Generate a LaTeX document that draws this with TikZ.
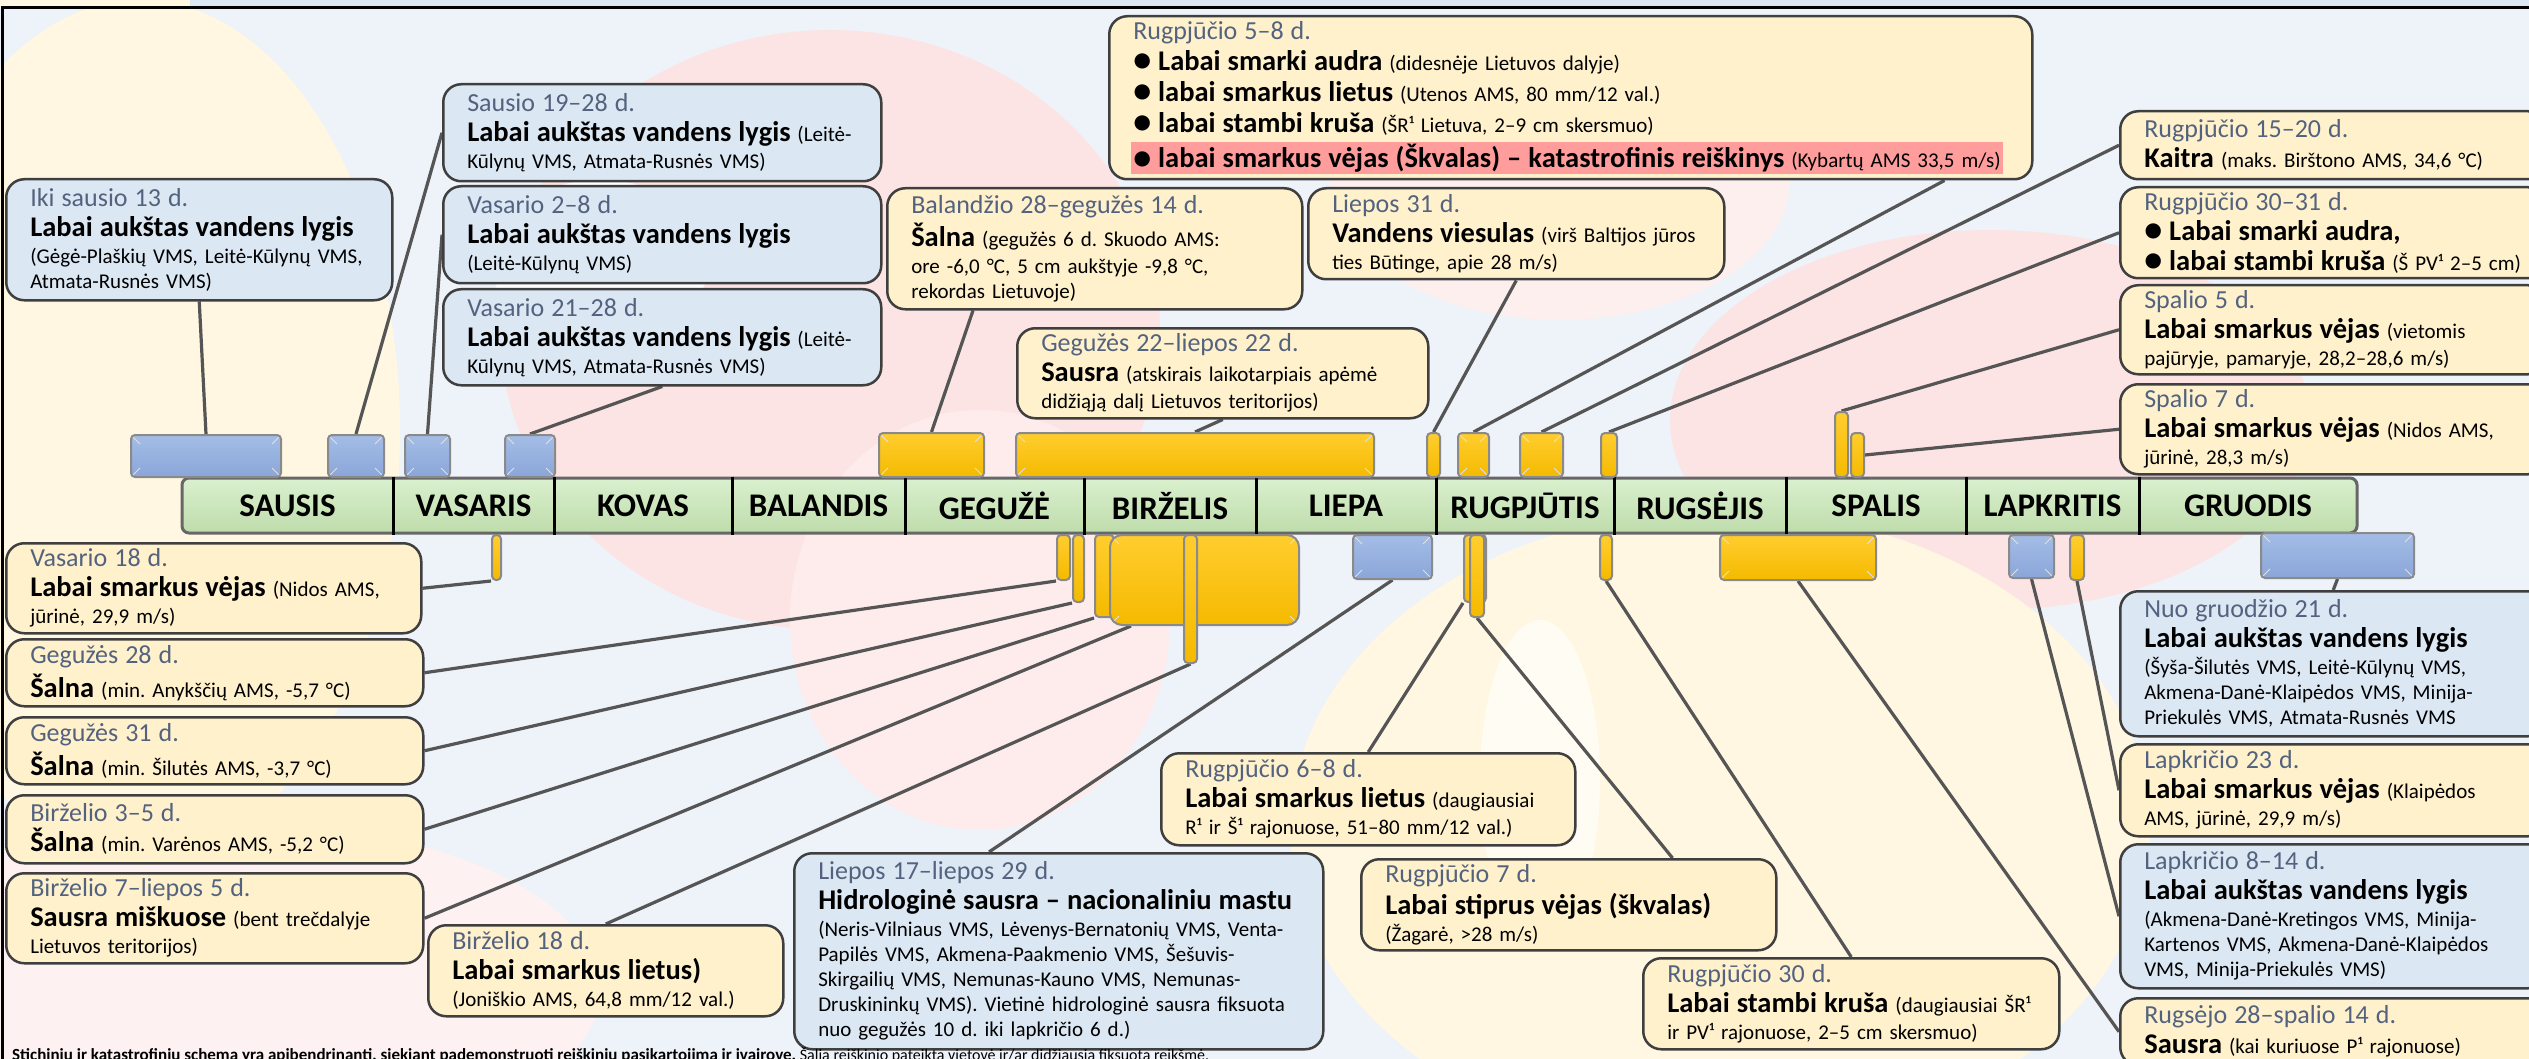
\documentclass[tikz,border=0pt]{standalone}
\usepackage{fontspec}
\setmainfont{Carlito}
\usetikzlibrary{fit, calc}

\definecolor{boxblue}{HTML}{DCE7F4}
\definecolor{boxyellow}{HTML}{FFF1CC}
\definecolor{boxline}{HTML}{3F3F3F}
\definecolor{datecol}{HTML}{53637F}
\definecolor{linkcol}{HTML}{555555}
\definecolor{bargold}{HTML}{F5BA00}
\definecolor{bargoldtop}{HTML}{FFCD2E}
\definecolor{barblue}{HTML}{8AA6D9}
\definecolor{barbluetop}{HTML}{A4BDE6}
\definecolor{barline}{HTML}{8A8A8A}
\definecolor{tlgreen}{HTML}{BFDCAC}
\definecolor{tlgreentop}{HTML}{DAF0CE}
\definecolor{tlline}{HTML}{676767}
\definecolor{hlred}{HTML}{FF9C9C}
\definecolor{bgblue}{HTML}{EEF2F9}
\definecolor{blobpink}{HTML}{FDE4E4}
\definecolor{blobcream}{HTML}{FFF7E2}

\newcommand\dte{\fontsize{26}{25}\selectfont\color{datecol}}
\newcommand\hd{\fontsize{28.5}{25}\selectfont\bfseries}
\newcommand\bul{{\fontsize{36}{25}\selectfont\raisebox{-1.5pt}{•}}}
\newcommand\hlbox[1]{{\setlength\fboxsep{2pt}\hspace*{-2pt}\colorbox{hlred}{#1}}}

\pgfdeclarelayer{blobs}
\pgfdeclarelayer{links}
\pgfsetlayers{blobs,links,main}

\begin{document}
\frenchspacing
\begin{tikzpicture}[
  x=1pt, y=-1pt,
  evbox/.style={
    draw=boxline, line width=2.5pt, rounded corners=18pt,
    anchor=north west, align=left, inner xsep=24pt, inner ysep=3pt,
    font=\fontsize{21}{25}\selectfont,
    execute at begin node={\frenchspacing\rightskip=0pt plus 1fil minus 1000pt}
  },
  bluebox/.style={evbox, fill=boxblue},
  yelbox/.style={evbox, fill=boxyellow},
  evbar/.style={draw=barline, line width=2pt, rounded corners=4pt, inner sep=0pt},
  goldbar/.style={evbar, top color=bargoldtop, bottom color=bargold},
  bluebar/.style={evbar, top color=barbluetop, bottom color=barblue},
  bevel/.style={path picture={
    \draw[black!12, line width=1pt]
      (path picture bounding box.north west) -- ++(9pt,-9pt)
      (path picture bounding box.north east) -- ++(-9pt,-9pt)
      (path picture bounding box.south west) -- ++(9pt,9pt)
      (path picture bounding box.south east) -- ++(-9pt,9pt);}},
  timeline/.style={draw=tlline, line width=3pt, rounded corners=7pt,
                   inner sep=0pt, top color=tlgreentop, bottom color=tlgreen},
  monthlbl/.style={font=\fontsize{33}{33}\selectfont\bfseries},
  monthsep/.style={line width=3pt, black},
  link/.style={draw=linkcol, line width=3.2pt}
]
\useasboundingbox (0,0) rectangle (2529,1059);

%% ── Background blobs ─────────────────────────────────────────
\begin{pgfonlayer}{blobs}
  \fill[bgblue] (0,0) rectangle (2529,1059);
  \fill[blobcream] (140,430) ellipse [x radius=260pt, y radius=430pt];
  \fill[blobpink!50!white] (220,990) ellipse [x radius=380pt, y radius=170pt];
  \fill[blobpink] (830,330) ellipse [x radius=330pt, y radius=300pt];
  \fill[white] (600,260) ellipse [x radius=110pt, y radius=80pt];
  \fill[blobpink!70!white] (980,620) ellipse [x radius=190pt, y radius=210pt];
  \fill[blobpink] (1990,420) ellipse [x radius=320pt, y radius=190pt];
  \fill[blobcream] (1720,830) ellipse [x radius=430pt, y radius=320pt];
  \fill[white!60!blobcream] (1540,780) ellipse [x radius=60pt, y radius=160pt];
  \fill[blobpink!60!white] (1560,180) ellipse [x radius=230pt, y radius=140pt];
  \fill[blobcream] (0,0) rectangle (190,8);
  \fill[boxblue] (190,0) rectangle (2529,8);
\end{pgfonlayer}

%% frame
\draw[line width=3pt] (2,1070) -- (2,8) -- (2540,8);

%% ── Timeline ─────────────────────────────────────────────────
\node[timeline, fit={(182,478)(2357,533)}] (tl) {};
\foreach \x in {393,554,732,905,1084,1256,1436,1614,1786,1966,2139}
  \draw[monthsep] (\x,0 |- tl.north) -- (\x,0 |- tl.south);
\foreach \m/\x [count=\i] in {SAUSIS/287.5, VASARIS/473.5, KOVAS/643,
    BALANDIS/818.5, GEGUŽĖ/994.5, BIRŽELIS/1170, LIEPA/1346,
    RUGPJŪTIS/1525, RUGSĖJIS/1700, SPALIS/1876, LAPKRITIS/2052.5,
    GRUODIS/2248}
  \node[monthlbl] (month\i) at (\x,506) {\m};

%% ── Event bars above the timeline ────────────────────────────
\node[bluebar, bevel, fit={(131,435)(281,477)}] (bIki) {};
\node[bluebar, bevel, fit={(328,435)(384,477)}] (bS1928) {};
\node[bluebar, bevel, fit={(405,435)(450,477)}] (bV28) {};
\node[bluebar, bevel, fit={(505,435)(555,477)}] (bV2128) {};
\node[goldbar, bevel, fit={(879,433)(984,477)}] (bBal) {};
\node[goldbar, bevel, fit={(1016,433)(1374,477)}] (bG22) {};
\node[goldbar, fit={(1427,433)(1440,477)}] (bL31) {};
\node[goldbar, bevel, fit={(1458,433)(1489,477)}] (bR58) {};
\node[goldbar, bevel, fit={(1520,433)(1563,477)}] (bR1520) {};
\node[goldbar, fit={(1601,433)(1617,477)}] (bR3031) {};
\node[goldbar, fit={(1835,412)(1848,477)}] (bSp5) {};
\node[goldbar, fit={(1851,433)(1864,477)}] (bSp7) {};

%% ── Event bars below the timeline ────────────────────────────
\node[goldbar, fit={(492,535)(501,580)}] (bV18) {};
\node[goldbar, fit={(1057,535)(1070,580)}] (bG28) {};
\node[goldbar, fit={(1073,535)(1084,602)}] (bG31) {};
\node[goldbar, fit={(1095,535)(1114,617)}] (bB35) {};
\node[goldbar, bevel, fit={(1110,535)(1299,625)}, rounded corners=12pt] (bB7) {};
\node[goldbar, fit={(1184,535)(1197,663)}] (bB18) {};
\node[bluebar, bevel, fit={(1353,535)(1432,579)}] (bL1729) {};
\node[goldbar, fit={(1464,535)(1486,602)}] (bR68) {};
\node[goldbar, fit={(1470,535)(1484,617)}] (bR7) {};
\node[goldbar, fit={(1600,535)(1612,580)}] (bR30) {};
\node[goldbar, bevel, fit={(1720,535)(1876,580)}] (bRs28) {};
\node[bluebar, bevel, fit={(2009,535)(2054,578)}] (bL814) {};
\node[goldbar, fit={(2070,535)(2084,580)}] (bL23) {};
\node[bluebar, bevel, fit={(2261,533)(2414,578)}] (bGr21) {};

%% ── Upper boxes ──────────────────────────────────────────────
\node[bluebox, text width=338pt, minimum height=121pt] (iki) at (5,178)
  {{\dte Iki sausio 13 d.}\\[5pt]
   {\hd Labai aukštas vandens lygis}\\[2pt]
   (Gėgė-Plaškių VMS, Leitė-Kūlynų VMS,\\
   Atmata-Rusnės VMS)};
\node[bluebox, text width=390pt, minimum height=97pt] (s1928) at (442,83)
  {{\dte Sausio 19–28 d.}\\[5pt]
   {\hd Labai aukštas vandens lygis} (Leitė-\\[2pt]
   Kūlynų VMS, Atmata-Rusnės VMS)};
\node[bluebox, text width=390pt, minimum height=97pt] (v28) at (442,185)
  {{\dte Vasario 2–8 d.}\\[5pt]
   {\hd Labai aukštas vandens lygis}\\[2pt]
   (Leitė-Kūlynų VMS)};
\node[bluebox, text width=390pt, minimum height=96pt] (v2128) at (442,288)
  {{\dte Vasario 21–28 d.}\\[5pt]
   {\hd Labai aukštas vandens lygis} (Leitė-\\[2pt]
   Kūlynų VMS, Atmata-Rusnės VMS)};
\node[yelbox, text width=875pt, minimum height=163pt] (r58) at (1108,15)
  {{\dte Rugpjūčio 5–8 d.}\\[6pt]
   {\hd\bul\ Labai smarki audra} (didesnėje Lietuvos dalyje)\\[6pt]
   {\hd\bul\ labai smarkus lietus} (Utenos AMS, 80 mm/12 val.)\\[6pt]
   {\hd\bul\ labai stambi kruša} (ŠR¹ Lietuva, 2–9 cm skersmuo)\\[6pt]
   \hlbox{{\hd\bul\ labai smarkus vėjas (Škvalas) – katastrofinis reiškinys} (Kybartų AMS 33,5 m/s)}};
\node[yelbox, text width=367pt, minimum height=121pt] (bal) at (886,187)
  {{\dte Balandžio 28–gegužės 14 d.}\\[5pt]
   {\hd Šalna} (gegužės 6 d. Skuodo AMS:\\[2pt]
   ore -6,0 °C, 5 cm aukštyje -9,8 °C,\\
   rekordas Lietuvoje)};
\node[yelbox, text width=363pt, minimum height=90pt] (g22) at (1016,327)
  {{\dte Gegužės 22–liepos 22 d.}\\[5pt]
   {\hd Sausra} (atskirais laikotarpiais apėmė\\[2pt]
   didžiąją dalį Lietuvos teritorijos)};
\node[yelbox, text width=368pt, minimum height=91pt] (l31) at (1307,187)
  {{\dte Liepos 31 d.}\\[5pt]
   {\hd Vandens viesulas} (virš Baltijos jūros\\[2pt]
   ties Būtinge, apie 28 m/s)};
\node[yelbox, text width=378pt, minimum height=68pt] (r1520) at (2119,110)
  {{\dte Rugpjūčio 15–20 d.}\\[5pt]
   {\hd Kaitra} (maks. Birštono AMS, 34,6 °C)};
\node[yelbox, text width=378pt, minimum height=91pt] (r3031) at (2119,186)
  {{\dte Rugpjūčio 30–31 d.}\\[5pt]
   {\hd\bul\ Labai smarki audra,}\\[5pt]
   {\hd\bul\ labai stambi kruša} (Š PV¹ 2–5 cm)};
\node[yelbox, text width=378pt, minimum height=89pt] (sp5) at (2119,284)
  {{\dte Spalio 5 d.}\\[5pt]
   {\hd Labai smarkus vėjas} (vietomis\\[2pt]
   pajūryje, pamaryje, 28,2–28,6 m/s)};
\node[yelbox, text width=378pt, minimum height=90pt] (sp7) at (2119,383)
  {{\dte Spalio 7 d.}\\[5pt]
   {\hd Labai smarkus vėjas} (Nidos AMS,\\[2pt]
   jūrinė, 28,3 m/s)};

%% ── Lower boxes ──────────────────────────────────────────────
\node[yelbox, text width=367pt, minimum height=90pt] (v18) at (5,542)
  {{\dte Vasario 18 d.}\\[5pt]
   {\hd Labai smarkus vėjas} (Nidos AMS,\\[2pt]
   jūrinė, 29,9 m/s)};
\node[yelbox, text width=369pt, minimum height=67pt] (g28) at (5,638)
  {{\dte Gegužės 28 d.}\\[5pt]
   {\hd Šalna} (min. Anykščių AMS, -5,7 °C)};
\node[yelbox, text width=369pt, minimum height=67pt] (g31) at (5,716)
  {{\dte Gegužės 31 d.}\\[5pt]
   {\hd Šalna} (min. Šilutės AMS, -3,7 °C)};
\node[yelbox, text width=369pt, minimum height=68pt] (b35) at (5,794)
  {{\dte Birželio 3–5 d.}\\[5pt]
   {\hd Šalna} (min. Varėnos AMS, -5,2 °C)};
\node[yelbox, text width=369pt, minimum height=90pt] (b7) at (5,872)
  {{\dte Birželio 7–liepos 5 d.}\\[5pt]
   {\hd Sausra miškuose} (bent trečdalyje\\[2pt]
   Lietuvos teritorijos)};
\node[yelbox, text width=307pt, minimum height=91pt] (b18) at (427,924)
  {{\dte Birželio 18 d.}\\[5pt]
   {\hd Labai smarkus lietus)}\\[2pt]
   (Joniškio AMS, 64,8 mm/12 val.)};
\node[bluebox, text width=481pt, minimum height=196pt] (l1729) at (793,852)
  {{\dte Liepos 17–liepos 29 d.}\\[5pt]
   {\hd Hidrologinė sausra – nacionaliniu mastu}\\[2pt]
   (Neris-Vilniaus VMS, Lėvenys-Bernatonių VMS, Venta-\\
   Papilės VMS, Akmena-Paakmenio VMS, Šešuvis-\\
   Skirgailių VMS, Nemunas-Kauno VMS, Nemunas-\\
   Druskininkų VMS). Vietinė hidrologinė sausra fiksuota\\
   nuo gegužės 10 d. iki lapkričio 6 d.)};
\node[yelbox, text width=366pt, minimum height=92pt] (r68) at (1160,752)
  {{\dte Rugpjūčio 6–8 d.}\\[5pt]
   {\hd Labai smarkus lietus} (daugiausiai\\[2pt]
   R¹ ir Š¹ rajonuose, 51–80 mm/12 val.)};
\node[yelbox, text width=367pt, minimum height=91pt] (r7) at (1360,858)
  {{\dte Rugpjūčio 7 d.}\\[5pt]
   {\hd Labai stiprus vėjas (škvalas)}\\[2pt]
   (Žagarė, >28 m/s)};
\node[yelbox, text width=368pt, minimum height=91pt] (r30) at (1642,957)
  {{\dte Rugpjūčio 30 d.}\\[5pt]
   {\hd Labai stambi kruša} (daugiausiai ŠR¹\\[2pt]
   ir PV¹ rajonuose, 2–5 cm skersmuo)};
\node[bluebox, text width=378pt, minimum height=145pt] (gr21) at (2119,590)
  {{\dte Nuo gruodžio 21 d.}\\[5pt]
   {\hd Labai aukštas vandens lygis}\\[2pt]
   (Šyša-Šilutės VMS, Leitė-Kūlynų VMS,\\
   Akmena-Danė-Klaipėdos VMS, Minija-\\
   Priekulės VMS, Atmata-Rusnės VMS};
\node[yelbox, text width=378pt, minimum height=92pt] (lap23) at (2119,743)
  {{\dte Lapkričio 23 d.}\\[5pt]
   {\hd Labai smarkus vėjas} (Klaipėdos\\[2pt]
   AMS, jūrinė, 29,9 m/s)};
\node[bluebox, text width=378pt, minimum height=144pt] (l814) at (2119,843)
  {{\dte Lapkričio 8–14 d.}\\[5pt]
   {\hd Labai aukštas vandens lygis}\\[2pt]
   (Akmena-Danė-Kretingos VMS, Minija-\\
   Kartenos VMS, Akmena-Danė-Klaipėdos\\
   VMS, Minija-Priekulės VMS)};
\node[yelbox, text width=378pt, minimum height=67pt] (rs28) at (2119,997)
  {{\dte Rugsėjo 28–spalio 14 d.}\\[5pt]
   {\hd Sausra} (kai kuriuose P¹ rajonuose)};

%% ── Connectors ───────────────────────────────────────────────
\begin{pgfonlayer}{links}
  \draw[link] (bIki.north)   -- (iki.south);
  \draw[link] (bS1928.north) -- (s1928.west);
  \draw[link] (bV28.north)   -- (v28.west);
  \draw[link] (bV2128.north) -- (v2128.south);
  \draw[link] (bBal.north)   -- ([xshift=87pt]bal.south west);
  \draw[link] (bG22.north)   -- (g22.south);
  \draw[link] (bL31.north)   -- (l31.south);
  \draw[link] (bR58.north)   -- ([xshift=-89pt]r58.south east);
  \draw[link] (bR1520.north) -- (r1520.west);
  \draw[link] (bR3031.north) -- (r3031.west);
  \draw[link] (bSp5.north)   -- (sp5.west);
  \draw[link] (bSp7.east)    -- (sp7.west);
  %% below
  \draw[link] (bV18.south west) -- (v18.east);
  \draw[link] (bG28.south west) -- (g28.east);
  \draw[link] (bG31.south west) -- (g31.east);
  \draw[link] (bB35.south west) -- (b35.east);
  \draw[link] ([xshift=22pt]bB7.south west) -- (b7.east);
  \draw[link] (bB18.south)   -- (b18.north);
  \draw[link] (bL1729.south) -- ([xshift=196pt]l1729.north west);
  \draw[link] (bR68.south west) -- (r68.north);
  \draw[link] (bR7.south)    -- ([xshift=-105pt]r7.north east);
  \draw[link] (bR30.south)   -- (r30.north);
  \draw[link] (bRs28.south)  -- (rs28.west);
  \draw[link] (bL814.south)  -- (l814.west);
  \draw[link] (bL23.south)   -- (lap23.west);
  \draw[link] (bGr21.south)  -- (gr21.north);
\end{pgfonlayer}

%% ── Footnote (cut by the page edge) ──────────────────────────
\node[anchor=base west, inner sep=0pt] (note) at (12,1060)
  {\fontsize{17}{17}\selectfont\textbf{Stichinių ir katastrofinių schema yra apibendrinanti, siekiant pademonstruoti reiškinių pasikartojimą ir įvairovę.}
   \fontsize{16}{16}\selectfont Šalia reiškinio pateikta vietovė ir/ar didžiausia fiksuota reikšmė.};

\end{tikzpicture}
\end{document}
